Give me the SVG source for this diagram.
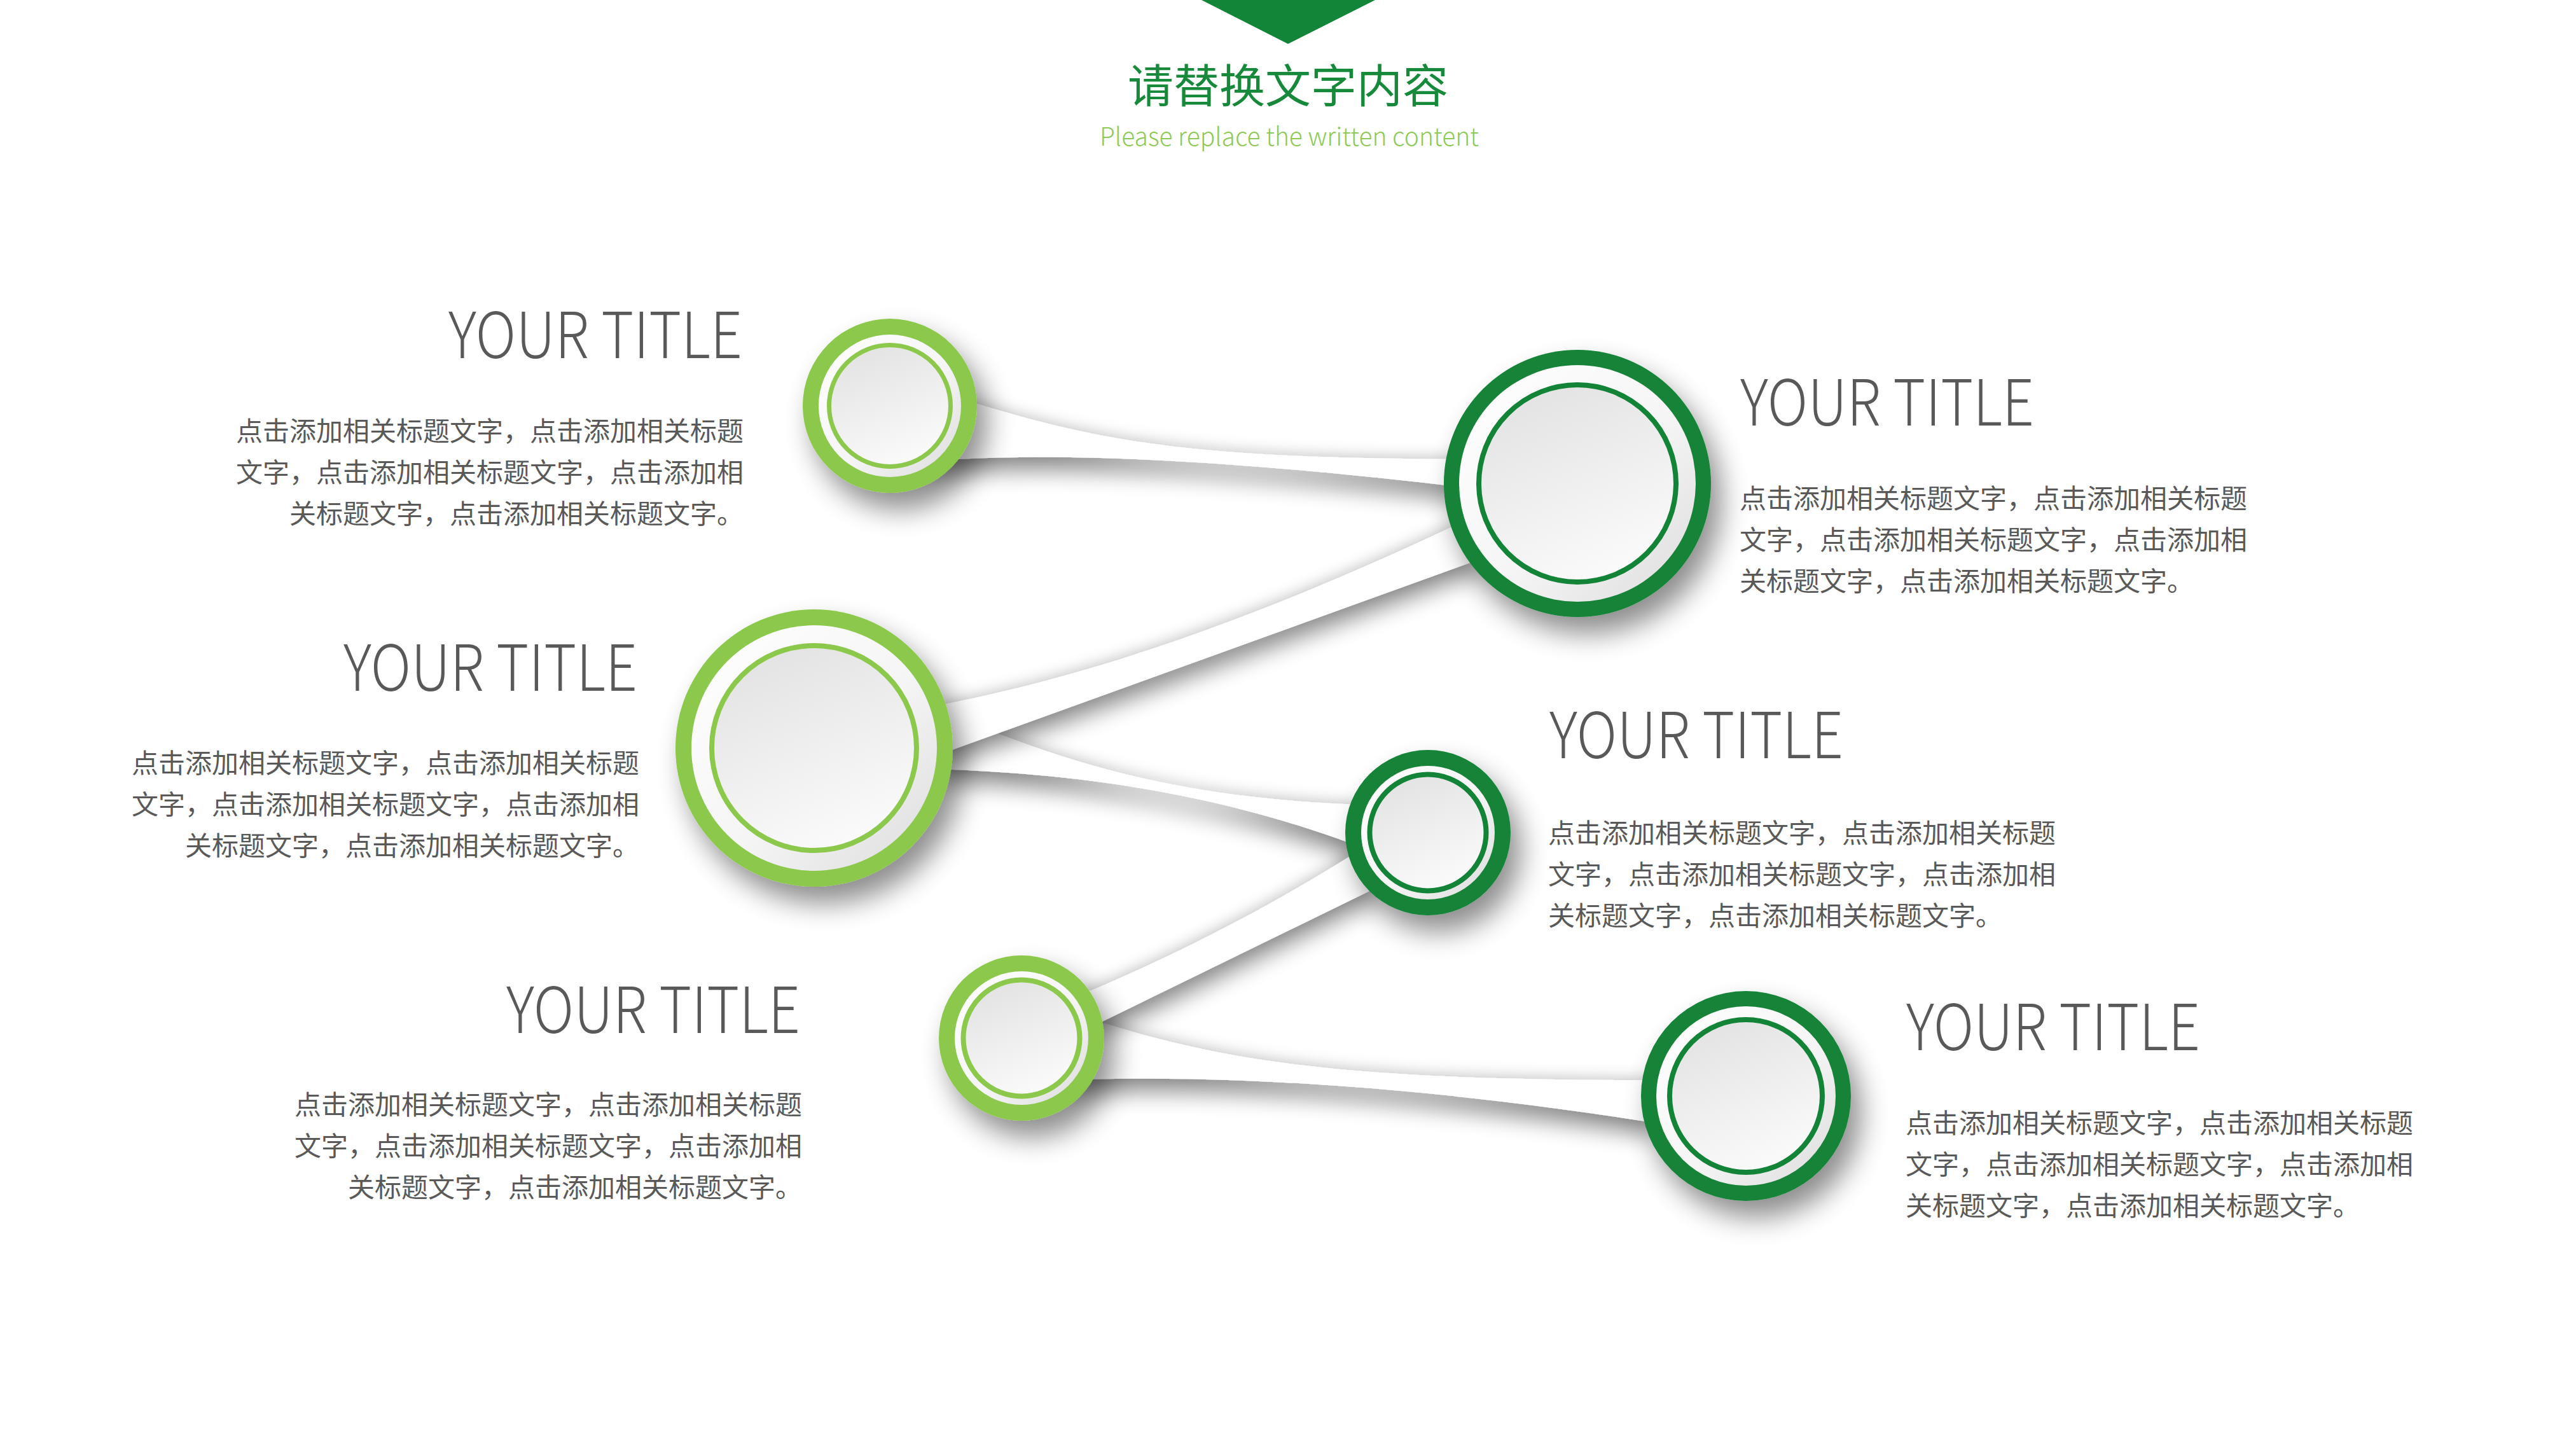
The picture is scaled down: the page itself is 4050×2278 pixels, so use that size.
<svg xmlns="http://www.w3.org/2000/svg" width="4050" height="2278" viewBox="0 0 4050 2278">
<style>
.dk{fill:#128337}
.lt{fill:#8cc84c}
.rdk{fill:none;stroke:#128337}
.rlt{fill:none;stroke:#8cc84c}
.ring{fill:url(#ringG)}
.disk{fill:url(#diskG)}
.rib{fill:#ffffff;filter:url(#ribShadow)}
.ttl{font-family:"Noto Sans CJK SC","Noto Sans",sans-serif;font-weight:300;font-size:100px;fill:#595959}
.body{font-family:"Noto Sans CJK SC",sans-serif;font-size:42px;fill:#595959}
</style>
<defs>
<linearGradient id="ringG" x1="0" y1="0" x2="1" y2="1">
<stop offset="0" stop-color="#ffffff"/>
<stop offset="0.55" stop-color="#f5f5f5"/>
<stop offset="1" stop-color="#dcdcdc"/>
</linearGradient>
<linearGradient id="diskG" x1="0.3" y1="0" x2="0.7" y2="1">
<stop offset="0" stop-color="#e3e3e3"/>
<stop offset="1" stop-color="#fbfbfb"/>
</linearGradient>
<filter id="nodeShadow" x="-40%" y="-40%" width="190%" height="190%">
<feGaussianBlur in="SourceAlpha" stdDeviation="22"/>
<feOffset dx="16" dy="26" result="o"/>
<feComponentTransfer in="o"><feFuncA type="linear" slope="0.45"/></feComponentTransfer>
<feMerge><feMergeNode/><feMergeNode in="SourceGraphic"/></feMerge>
</filter>
<filter id="ribShadow" x="-20%" y="-40%" width="140%" height="200%">
<feGaussianBlur in="SourceAlpha" stdDeviation="17" result="b1"/>
<feOffset in="b1" dx="0" dy="22" result="o1"/>
<feComponentTransfer in="o1" result="s1"><feFuncA type="linear" slope="0.42"/></feComponentTransfer>
<feGaussianBlur in="SourceAlpha" stdDeviation="12" result="b2"/>
<feOffset in="b2" dx="0" dy="-4" result="o2"/>
<feComponentTransfer in="o2" result="s2"><feFuncA type="linear" slope="0.18"/></feComponentTransfer>
<feMerge><feMergeNode in="s2"/><feMergeNode in="s1"/><feMergeNode in="SourceGraphic"/></feMerge>
</filter>
</defs>
<rect width="4050" height="2278" fill="#ffffff"/>

<g id="header">
<polygon points="1889,0 2162,0 2025,69" fill="#138538"/>
<text x="2025" y="161" text-anchor="middle" font-family="Noto Sans CJK SC, sans-serif" font-size="72" fill="#168a3a">请替换文字内容</text>
<text x="1729" y="229" textLength="596" lengthAdjust="spacingAndGlyphs" font-family="Noto Sans CJK SC, sans-serif" font-weight="300" font-size="40" fill="#8dc955">Please replace the written content</text>
</g>

<g id="connectors">
<path class="rib" d="M1490,1122 C1680,1200 1850,1255 2140,1265 L2140,1332 C1950,1260 1750,1220 1497,1210 L1480,1210 Z"/>
<path class="rib" d="M1480,1108 C1700,1065 1950,985 2290,825 L2330,878 L1480,1185 Z"/>
<path class="rib" d="M1450,628 L1537,635 C1750,700 1900,720 2300,722 L2300,766 C1950,725 1700,712 1506,722 L1450,722 Z"/>
<path class="rib" d="M1680,1605 L1737,1609 C1950,1675 2150,1698 2600,1698 L2600,1765 C2250,1710 1950,1690 1706,1697 L1680,1697 Z"/>
<path class="rib" d="M1700,1560 L1716,1557 C1850,1500 1990,1430 2140,1335 L2165,1395 L1725,1610 Z"/>
</g>

<g id="node-1">
<circle cx="1399" cy="638" r="137" class="lt" filter="url(#nodeShadow)"/>
<circle cx="1399" cy="638" r="112" class="ring"/>
<circle cx="1399" cy="638" r="92" class="disk"/>
<circle cx="1399" cy="638" r="95.5" class="rlt" stroke-width="7"/>
<text x="705" y="563" class="ttl" textLength="462" lengthAdjust="spacingAndGlyphs">YOUR TITLE</text>
<text class="body" text-anchor="end"><tspan x="1169" y="693">点击添加相关标题文字，点击添加相关标题</tspan><tspan x="1169" y="758">文字，点击添加相关标题文字，点击添加相</tspan><tspan x="1169" y="823">关标题文字，点击添加相关标题文字。</tspan></text>
</g>

<g id="node-2">
<circle cx="2480" cy="760" r="210" class="dk" filter="url(#nodeShadow)"/>
<circle cx="2480" cy="760" r="186" class="ring"/>
<circle cx="2480" cy="760" r="151" class="disk"/>
<circle cx="2480" cy="760" r="155" class="rdk" stroke-width="8"/>
<text x="2736" y="669" class="ttl" textLength="462" lengthAdjust="spacingAndGlyphs">YOUR TITLE</text>
<text class="body"><tspan x="2735" y="799">点击添加相关标题文字，点击添加相关标题</tspan><tspan x="2735" y="864">文字，点击添加相关标题文字，点击添加相</tspan><tspan x="2735" y="929">关标题文字，点击添加相关标题文字。</tspan></text>
</g>

<g id="node-3">
<circle cx="1280" cy="1176" r="218" class="lt" filter="url(#nodeShadow)"/>
<circle cx="1280" cy="1176" r="193" class="ring"/>
<circle cx="1280" cy="1176" r="157" class="disk"/>
<circle cx="1280" cy="1176" r="161" class="rlt" stroke-width="8"/>
<text x="540" y="1086" class="ttl" textLength="462" lengthAdjust="spacingAndGlyphs">YOUR TITLE</text>
<text class="body" text-anchor="end"><tspan x="1005" y="1215">点击添加相关标题文字，点击添加相关标题</tspan><tspan x="1005" y="1280">文字，点击添加相关标题文字，点击添加相</tspan><tspan x="1005" y="1345">关标题文字，点击添加相关标题文字。</tspan></text>
</g>

<g id="node-4">
<circle cx="2245" cy="1309" r="130" class="dk" filter="url(#nodeShadow)"/>
<circle cx="2245" cy="1309" r="105" class="ring"/>
<circle cx="2245" cy="1309" r="87.5" class="disk"/>
<circle cx="2245" cy="1309" r="91.5" class="rdk" stroke-width="8"/>
<text x="2436" y="1192" class="ttl" textLength="462" lengthAdjust="spacingAndGlyphs">YOUR TITLE</text>
<text class="body"><tspan x="2434" y="1325">点击添加相关标题文字，点击添加相关标题</tspan><tspan x="2434" y="1390">文字，点击添加相关标题文字，点击添加相</tspan><tspan x="2434" y="1455">关标题文字，点击添加相关标题文字。</tspan></text>
</g>

<g id="node-5">
<circle cx="1606" cy="1632" r="130" class="lt" filter="url(#nodeShadow)"/>
<circle cx="1606" cy="1632" r="105" class="ring"/>
<circle cx="1606" cy="1632" r="87.5" class="disk"/>
<circle cx="1606" cy="1632" r="91.5" class="rlt" stroke-width="8"/>
<text x="796" y="1624" class="ttl" textLength="462" lengthAdjust="spacingAndGlyphs">YOUR TITLE</text>
<text class="body" text-anchor="end"><tspan x="1261" y="1752">点击添加相关标题文字，点击添加相关标题</tspan><tspan x="1261" y="1817">文字，点击添加相关标题文字，点击添加相</tspan><tspan x="1261" y="1882">关标题文字，点击添加相关标题文字。</tspan></text>
</g>

<g id="node-6">
<circle cx="2745" cy="1723" r="165" class="dk" filter="url(#nodeShadow)"/>
<circle cx="2745" cy="1723" r="141" class="ring"/>
<circle cx="2745" cy="1723" r="116" class="disk"/>
<circle cx="2745" cy="1723" r="120" class="rdk" stroke-width="8"/>
<text x="2997" y="1651" class="ttl" textLength="462" lengthAdjust="spacingAndGlyphs">YOUR TITLE</text>
<text class="body"><tspan x="2996" y="1781">点击添加相关标题文字，点击添加相关标题</tspan><tspan x="2996" y="1846">文字，点击添加相关标题文字，点击添加相</tspan><tspan x="2996" y="1911">关标题文字，点击添加相关标题文字。</tspan></text>
</g>
</svg>
